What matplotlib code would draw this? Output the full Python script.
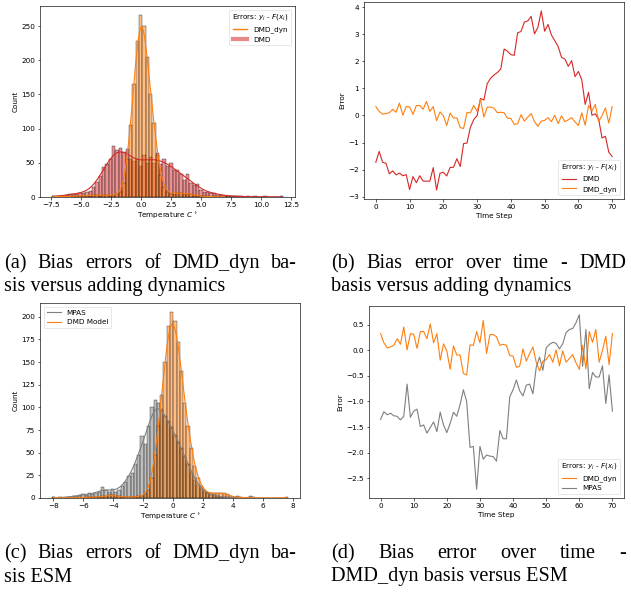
import numpy as np
import matplotlib
matplotlib.use('Agg')
import matplotlib.pyplot as plt
import seaborn as sns
from matplotlib.lines import Line2D

# bias error per time step
time_step = np.arange(71)
dmd_err = [-1.73, -1.33, -1.73, -1.77, -2.16, -2.05, -2.2, -2.13, -2.23, -2.19,
           -2.74, -2.26, -2.49, -2.23, -2.43, -2.43, -2.43, -1.93, -2.76, -2.14,
           -2.1, -2.24, -1.92, -1.92, -1.6, -1.89, -1.04, -1.02, -0.44, -0.15,
           0.0, 0.63, 0.57, 1.18, 1.38, 1.5, 1.59, 1.72, 2.46, 2.38,
           2.25, 2.23, 3.06, 3.11, 3.46, 3.5, 3.67, 3.02, 3.27, 3.87,
           3.12, 3.37, 2.98, 2.77, 2.55, 2.15, 2.09, 1.82, 2.03, 1.44,
           1.63, 1.32, 0.41, 0.86, 0.01, 0.06, -0.15, -0.83, -0.77, -1.36,
           -1.52]
dmd_dyn_err = [0.33, 0.15, 0.05, 0.07, 0.1, 0.23, 0.12, 0.46, 0.01, 0.33,
               0.32, 0.04, 0.37, 0.37, 0.23, 0.52, 0.15, 0.33, -0.19, 0.13,
               -0.01, -0.37, 0.09, -0.09, -0.09, -0.45, -0.48, 0.11, 0.10, 0.37,
               0.15, 0.59, -0.06, 0.31, 0.31, 0.27, 0.1, 0.12, 0.1, -0.1,
               -0.11, -0.33, -0.31, 0.03, -0.21, -0.06, 0.07, -0.23, -0.4, -0.21,
               -0.18, -0.08, -0.23, 0.01, -0.3, -0.01, -0.23, -0.16, -0.08, -0.24,
               -0.37, 0.1, -0.36, 0.37, 0.16, 0.41, -0.23, 0.0, 0.28, -0.28,
               0.33]
mpas_err = [-1.35, -1.2, -1.26, -1.23, -1.28, -1.29, -1.36, -1.29, -0.66, -1.31,
            -1.19, -1.15, -1.49, -1.46, -1.62, -1.51, -1.4, -1.59, -1.21, -1.46,
            -1.61, -1.43, -1.21, -1.29, -1.06, -0.77, -1.0, -1.9, -1.88, -2.72,
            -1.88, -2.13, -2.05, -2.07, -2.08, -2.17, -1.57, -1.73, -1.73, -0.91,
            -0.77, -0.58, -0.79, -0.89, -0.68, -0.66, -0.85, -0.33, -0.13, -0.39,
            0.05, 0.12, 0.16, 0.14, 0.03, 0.13, 0.35, 0.41, 0.43, 0.54,
            0.7, -0.31, 0.41, -0.75, -0.43, -0.52, -0.52, -0.3, -1.04, -0.48,
            -1.19]

# histogram (a): 69 bins between -7.49 and 11.83
bins_a = np.linspace(-7.49, 11.83, 70)
dmd_dyn_counts = [1, 0, 1, 0, 1, 1, 1, 2, 1, 2,
                  2, 2, 3, 3, 2, 3, 3, 2, 3, 4,
                  8, 20, 55, 105, 165, 228, 266, 250, 205, 150,
                  108, 62, 32, 15, 8, 5, 5, 6, 6, 5,
                  5, 4, 3, 2, 1, 1, 1, 0, 1, 0,
                  0, 1, 0, 0, 0, 0, 0, 0, 0, 0,
                  0, 0, 0, 0, 0, 0, 0, 0, 0]
dmd_counts = [1, 1, 1, 2, 3, 4, 4, 5, 6, 6,
              8, 9, 14, 22, 30, 44, 48, 55, 75, 68,
              72, 66, 70, 55, 52, 56, 45, 62, 50, 59,
              49, 64, 48, 56, 45, 49, 40, 39, 34, 25,
              34, 20, 17, 19, 10, 7, 7, 6, 6, 3,
              3, 2, 2, 1, 1, 1, 1, 0, 1, 0,
              1, 0, 0, 1, 0, 0, 0, 0, 1]

# histogram (c): 72 bins between -8.10 and 7.66
bins_c = np.linspace(-8.10, 7.66, 73)
model_counts = [1, 0, 0, 0, 0, 1, 0, 0, 1, 0,
                1, 1, 1, 1, 1, 2, 2, 3, 3, 2,
                2, 1, 1, 1, 1, 1, 2, 2, 4, 9,
                22, 48, 80, 114, 150, 190, 205, 195, 172, 140,
                105, 80, 55, 35, 22, 13, 8, 6, 5, 5,
                5, 6, 5, 4, 2, 1, 1, 1, 0, 0,
                1, 0, 0, 0, 0, 0, 0, 0, 0, 0,
                0, 1]
mpas_counts = [1, 0, 1, 0, 1, 1, 2, 2, 3, 4,
               3, 5, 4, 6, 7, 12, 9, 7, 10, 7,
               9, 13, 18, 24, 28, 38, 48, 68, 60, 79,
               100, 108, 105, 98, 90, 85, 78, 70, 62, 55,
               45, 38, 28, 20, 14, 10, 7, 5, 3, 3,
               2, 1, 1, 1, 0, 0, 2, 0, 0, 0,
               2, 1, 0, 0, 0, 0, 0, 0, 0, 0,
               0, 0]

captions = {
    'a': ["(a) Bias errors of DMD_dyn ba-", "sis versus adding dynamics"],
    'b': ["(b) Bias error over time - DMD", "basis versus adding dynamics"],
    'c': ["(c) Bias errors of DMD_dyn ba-", "sis ESM"],
    'd': ["(d) Bias error over time -", "DMD_dyn basis versus ESM"],
}

ORANGE = '#ff7f0e'
RED = '#d62728'
GREY = '#7f7f7f'
err_title = 'Errors: $y_i$ - $F(x_i)$'

plt.rcParams.update({
    'font.size': 5.2,
    'axes.linewidth': 0.45,
    'lines.linewidth': 0.8,
    'xtick.major.size': 1.8, 'ytick.major.size': 1.8,
    'xtick.major.width': 0.45, 'ytick.major.width': 0.45,
    'xtick.major.pad': 1.8, 'ytick.major.pad': 1.8,
    'axes.labelpad': 2.0,
    'legend.fontsize': 5.2,
    'legend.title_fontsize': 5.2,
    'patch.linewidth': 0.4,
})

W, H = 631, 594
fig = plt.figure(figsize=(W / 100, H / 100), dpi=100)


def box(left, top, right, bottom):
    return [left / W, 1 - bottom / H, (right - left) / W, (bottom - top) / H]


def expand(edges, counts):
    centers = (edges[:-1] + edges[1:]) / 2
    return np.repeat(centers, counts)


# (a)
ax_a = fig.add_axes(box(40, 6, 295, 197))
sns.histplot(x=expand(bins_a, dmd_counts), bins=bins_a, kde=True, color=RED,
             alpha=0.5, ax=ax_a)
sns.histplot(x=expand(bins_a, dmd_dyn_counts), bins=bins_a, kde=True, color=ORANGE,
             alpha=0.5, ax=ax_a)
ax_a.set_xticks(np.arange(-7.5, 12.6, 2.5))
ax_a.set_xlabel('Temperature $C^\\circ$')
ax_a.set_ylabel('Count')
ax_a.legend(handles=[Line2D([], [], color=ORANGE, lw=1.0),
                     Line2D([], [], color=RED, lw=3, alpha=0.55)],
            labels=['DMD_dyn', 'DMD'], title=err_title, loc='upper right')

# (b)
ax_b = fig.add_axes(box(364, 2, 624, 199))
ax_b.plot(time_step, dmd_err, color=RED, label='DMD')
ax_b.plot(time_step, dmd_dyn_err, color=ORANGE, label='DMD_dyn')
ax_b.set_xlabel('Time Step')
ax_b.set_ylabel('Error')
ax_b.legend(title=err_title, loc='lower right')

# (c)
ax_c = fig.add_axes(box(40, 303, 300, 498))
sns.histplot(x=expand(bins_c, mpas_counts), bins=bins_c, kde=True, color=GREY,
             alpha=0.5, ax=ax_c)
sns.histplot(x=expand(bins_c, model_counts), bins=bins_c, kde=True, color=ORANGE,
             alpha=0.5, ax=ax_c)
ax_c.set_xlabel('Temperature $C^\\circ$')
ax_c.set_ylabel('Count')
ax_c.legend(handles=[Line2D([], [], color=GREY), Line2D([], [], color=ORANGE)],
            labels=['MPAS', 'DMD Model'], loc='upper left')

# (d)
ax_d = fig.add_axes(box(369, 306, 624, 498))
ax_d.plot(time_step, dmd_dyn_err, color=ORANGE, label='DMD_dyn')
ax_d.plot(time_step, mpas_err, color=GREY, label='MPAS')
ax_d.set_xlabel('Time Step')
ax_d.set_ylabel('Error')
ax_d.legend(title=err_title, loc='lower right')

# captions (first line justified like the LaTeX source)
renderer = fig.canvas.get_renderer()
cap_font = dict(family='Liberation Serif', size=14.6)


def put_caption(lines, x0, width, y0, leading=23.5):
    first = lines[0].split(' ')
    items = [fig.text(0, 0, w, va='baseline', **cap_font) for w in first]
    widths = [t.get_window_extent(renderer).width for t in items]
    gap = (width - sum(widths)) / (len(first) - 1)
    x = x0
    for t, w in zip(items, widths):
        t.set_position((x / W, 1 - y0 / H))
        x += w + gap
    for i, line in enumerate(lines[1:], start=1):
        fig.text(x0 / W, 1 - (y0 + i * leading) / H, line, va='baseline', **cap_font)


put_caption(captions['a'], 4, 293, 268)
put_caption(captions['b'], 331, 295, 268)
put_caption(captions['c'], 4, 293, 558)
put_caption(captions['d'], 331, 295, 558)

fig.savefig('out.png', dpi=100)
